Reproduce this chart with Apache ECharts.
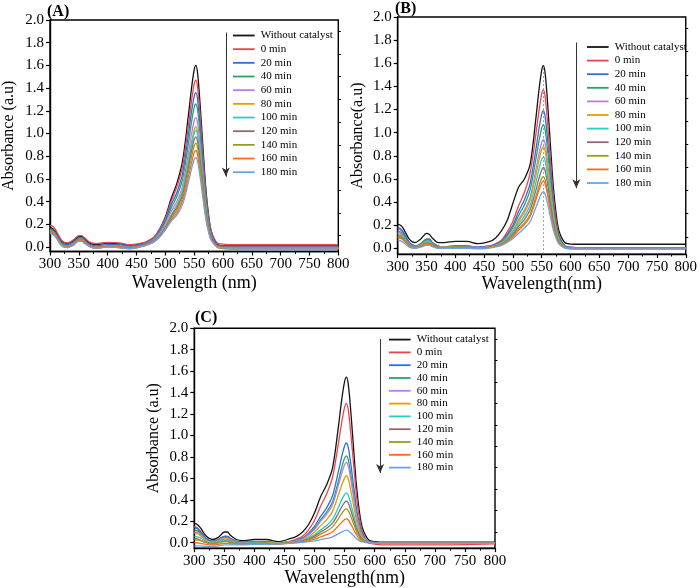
<!DOCTYPE html>
<html><head><meta charset="utf-8">
<script src="https://cdn.jsdelivr.net/npm/echarts@6/dist/echarts.min.js"></script>
<style>html,body{margin:0;padding:0;background:#fff}#c{width:700px;height:588px}</style>
</head><body><div id="c"></div><script>
// ---- data ----
const wavelength = [300,305,310,320,330,340,350,355,360,370,380,400,420,440,
  460,470,480,490,500,510,520,530,540,545,550,553,556,560,565,570,575,580,590,600,
  620,700,800];
const seriesNames = ['Without catalyst','0 min','20 min','40 min','60 min','80 min','100 min','120 min','140 min','160 min','180 min'];
const seriesColors = ['#141414','#f0424a','#2f6fdb','#2aa36b','#b67ceb','#dfa000','#27cbcb','#8e6c6c','#9b9b1f','#ff6a1a','#6aa2e6'];
const xTickLabels = [300,350,400,450,500,550,600,650,700,750,800];
const yTickLabels = [0,0.2,0.4,0.6,0.8,1.0,1.2,1.4,1.6,1.8,2.0];
const yMinorTicks = [0.1,0.3,0.5,0.7,0.9,1.1,1.3,1.5,1.7,1.9];

// Panel A
const A_wo  = [0.17,0.16,0.13,0.05,0.03,0.05,0.09,0.09,0.07,0.03,0.02,0.035,0.03,0.012, 0.03,0.05,0.08,0.155,0.265,0.425,0.56,0.76,1.16,1.38,1.56,1.60,1.53,1.28,0.90,0.53,0.28,0.13,0.025,0.01, 0.01,0.01,0.01];
const A_0   = [0.19,0.18,0.15,0.06,0.035,0.06,0.10,0.10,0.08,0.04,0.03,0.04,0.035,0.02, 0.035,0.055,0.085,0.155,0.255,0.40,0.53,0.71,1.07,1.27,1.435,1.47,1.405,1.18,0.835,0.50,0.27,0.135,0.035,0.025, 0.02,0.02,0.02];
const A_20  = [0.16,0.15,0.12,0.04,0.02,0.04,0.08,0.08,0.06,0.02,0.01,0.02,0.02,0.01, 0.025,0.045,0.075,0.14,0.235,0.37,0.48,0.65,0.99,1.175,1.325,1.36,1.30,1.09,0.77,0.455,0.24,0.115,0.02,0.008, 0.005,0.005,0.005];
const A_40  = [0.15,0.14,0.11,0.03,0.01,0.03,0.07,0.07,0.05,0.01,0.0,0.01,0.01,0.0, 0.02,0.04,0.07,0.13,0.22,0.34,0.445,0.60,0.91,1.085,1.23,1.26,1.205,1.005,0.705,0.41,0.215,0.095,0.01,-0.003, -0.005,-0.005,-0.005];
const A_60  = [0.14,0.13,0.10,0.02,0.005,0.025,0.065,0.065,0.045,0.005,0.0,0.01,0.005,-0.005, 0.015,0.035,0.065,0.12,0.20,0.31,0.40,0.54,0.825,0.98,1.11,1.14,1.09,0.91,0.635,0.37,0.19,0.085,0.005,-0.008, -0.01,-0.01,-0.01];
const A_80  = [0.13,0.12,0.09,0.01,-0.005,0.015,0.055,0.055,0.035,0.0,-0.01,0.0,-0.005,-0.015, 0.005,0.025,0.05,0.10,0.175,0.28,0.37,0.50,0.765,0.91,1.03,1.06,1.01,0.84,0.585,0.335,0.17,0.07,-0.005,-0.015, -0.02,-0.02,-0.02];
const A_100 = [0.14,0.13,0.10,0.02,0.0,0.02,0.06,0.06,0.04,0.005,-0.005,0.005,0.0,-0.01, 0.01,0.03,0.055,0.105,0.175,0.275,0.36,0.49,0.745,0.885,1.0,1.03,0.985,0.82,0.575,0.335,0.175,0.075,0.005,-0.005, -0.01,-0.01,-0.01];
const A_120 = [0.13,0.12,0.095,0.02,0.0,0.02,0.06,0.06,0.04,0.005,-0.005,0.005,0.0,-0.01, 0.015,0.03,0.055,0.10,0.17,0.265,0.345,0.46,0.70,0.835,0.945,0.97,0.925,0.775,0.545,0.32,0.17,0.08,0.012,0.005, 0.0,0.0,0.0];
const A_140 = [0.13,0.12,0.09,0.015,-0.005,0.015,0.055,0.055,0.035,0.0,-0.01,0.0,-0.005,-0.015, 0.005,0.02,0.045,0.09,0.16,0.25,0.325,0.435,0.66,0.785,0.89,0.915,0.87,0.725,0.505,0.29,0.15,0.062,0.0,-0.012, -0.015,-0.015,-0.015];
const A_160 = [0.14,0.13,0.095,0.02,0.0,0.02,0.06,0.06,0.04,0.005,-0.005,0.005,0.0,-0.01, 0.01,0.025,0.045,0.09,0.155,0.235,0.30,0.405,0.615,0.73,0.83,0.85,0.81,0.675,0.475,0.275,0.14,0.06,0.003,-0.007, -0.01,-0.01,-0.01];
const A_180 = [0.12,0.11,0.085,0.015,-0.005,0.015,0.05,0.05,0.03,0.0,-0.01,0.0,-0.005,-0.015, 0.005,0.02,0.045,0.085,0.15,0.225,0.28,0.375,0.57,0.68,0.77,0.79,0.755,0.63,0.44,0.255,0.13,0.055,0.0,-0.008, -0.01,-0.01,-0.01];

// Panel B
const B_wo  = [0.21,0.20,0.17,0.08,0.05,0.08,0.13,0.12,0.09,0.05,0.05,0.06,0.06,0.04, 0.06,0.09,0.15,0.24,0.39,0.53,0.60,0.73,1.13,1.36,1.54,1.58,1.51,1.27,0.90,0.54,0.30,0.15,0.05,0.037, 0.035,0.035,0.035];
const B_0   = [0.17,0.16,0.13,0.05,0.02,0.04,0.08,0.08,0.05,0.02,0.015,0.02,0.02,0.01, 0.02,0.04,0.07,0.14,0.235,0.37,0.485,0.655,0.99,1.18,1.335,1.37,1.31,1.095,0.77,0.455,0.245,0.115,0.022,0.01, 0.005,0.005,0.005];
const B_20  = [0.18,0.17,0.14,0.05,0.02,0.04,0.08,0.08,0.05,0.02,0.015,0.02,0.02,0.01, 0.02,0.035,0.06,0.12,0.20,0.32,0.42,0.565,0.86,1.025,1.16,1.19,1.135,0.95,0.67,0.395,0.21,0.10,0.02,0.01, 0.005,0.005,0.005];
const B_40  = [0.15,0.14,0.11,0.04,0.015,0.035,0.07,0.07,0.045,0.015,0.01,0.015,0.015,0.005, 0.015,0.03,0.055,0.105,0.18,0.285,0.375,0.51,0.775,0.92,1.04,1.07,1.02,0.855,0.60,0.355,0.19,0.09,0.015,0.005, 0.0,0.0,0.0];
const B_60  = [0.14,0.13,0.10,0.035,0.01,0.03,0.06,0.06,0.04,0.01,0.01,0.015,0.015,0.005, 0.015,0.025,0.045,0.09,0.155,0.25,0.33,0.445,0.68,0.81,0.915,0.94,0.90,0.75,0.525,0.31,0.16,0.07,0.005,-0.002, -0.005,-0.005,-0.005];
const B_80  = [0.13,0.12,0.095,0.03,0.01,0.03,0.055,0.055,0.035,0.01,0.01,0.015,0.01,0.005, 0.01,0.025,0.045,0.085,0.145,0.235,0.31,0.42,0.635,0.755,0.855,0.88,0.84,0.70,0.495,0.29,0.155,0.072,0.01,0.003, 0.0,0.0,0.0];
const B_100 = [0.12,0.11,0.09,0.03,0.01,0.025,0.05,0.05,0.03,0.01,0.005,0.01,0.01,0.0, 0.01,0.022,0.04,0.08,0.135,0.21,0.28,0.375,0.57,0.68,0.77,0.79,0.755,0.63,0.445,0.26,0.14,0.065,0.01,0.002, 0.0,0.0,0.0];
const B_120 = [0.11,0.10,0.08,0.025,0.005,0.02,0.045,0.045,0.03,0.01,0.005,0.01,0.01,0.0, 0.01,0.02,0.035,0.07,0.12,0.19,0.25,0.335,0.505,0.60,0.68,0.70,0.67,0.56,0.39,0.23,0.12,0.055,0.005,-0.003, -0.005,-0.005,-0.005];
const B_140 = [0.10,0.09,0.075,0.02,0.005,0.02,0.04,0.04,0.025,0.005,0.005,0.01,0.005,0.0, 0.008,0.018,0.03,0.065,0.11,0.17,0.22,0.295,0.45,0.535,0.605,0.62,0.59,0.495,0.35,0.205,0.11,0.05,0.008,0.002, 0.0,0.0,0.0];
const B_160 = [0.09,0.085,0.07,0.02,0.005,0.015,0.035,0.035,0.02,0.005,0.0,0.005,0.005,0.0, 0.007,0.017,0.03,0.06,0.10,0.155,0.205,0.275,0.42,0.50,0.565,0.58,0.555,0.465,0.325,0.19,0.10,0.047,0.007,0.002, 0.0,0.0,0.0];
const B_180 = [0.07,0.065,0.05,0.01,0.0,0.01,0.025,0.025,0.015,0.0,0.0,0.0,0.0,-0.005, 0.003,0.012,0.025,0.05,0.085,0.13,0.175,0.23,0.355,0.42,0.477,0.49,0.468,0.39,0.275,0.16,0.085,0.037,0.002,-0.004, -0.005,-0.005,-0.005];

// Panel C
const C_wo  = [0.18,0.17,0.14,0.06,0.03,0.05,0.10,0.10,0.07,0.03,0.02,0.03,0.03,0.01, 0.04,0.06,0.10,0.17,0.28,0.43,0.54,0.70,1.10,1.33,1.505,1.545,1.48,1.24,0.87,0.51,0.27,0.13,0.025,0.01, 0.005,0.005,0.005];
const C_0   = [0.15,0.14,0.11,0.04,0.015,0.03,0.06,0.06,0.04,0.01,0.0,0.0,-0.005,-0.01, 0.015,0.035,0.06,0.12,0.21,0.34,0.455,0.615,0.94,1.12,1.265,1.30,1.24,1.035,0.725,0.42,0.215,0.09,0.0,-0.012, -0.02,-0.02,-0.01];
const C_20  = [0.14,0.13,0.10,0.04,0.015,0.03,0.06,0.06,0.04,0.015,0.01,0.01,0.01,0.0, 0.012,0.025,0.045,0.09,0.155,0.245,0.325,0.44,0.675,0.80,0.905,0.93,0.89,0.745,0.525,0.31,0.165,0.075,0.01,0.002, 0.0,0.0,0.0];
const C_40  = [0.12,0.11,0.09,0.03,0.01,0.025,0.05,0.05,0.03,0.01,0.005,0.005,0.005,0.0, 0.01,0.022,0.04,0.08,0.135,0.215,0.285,0.385,0.585,0.70,0.79,0.81,0.775,0.645,0.455,0.27,0.14,0.065,0.01,0.003, 0.0,0.0,0.0];
const C_60  = [0.10,0.095,0.075,0.025,0.005,0.02,0.045,0.045,0.03,0.005,0.0,0.005,0.0,0.0, 0.01,0.02,0.035,0.075,0.125,0.20,0.265,0.355,0.545,0.645,0.73,0.75,0.715,0.60,0.42,0.25,0.13,0.06,0.008,0.002, 0.0,0.0,0.0];
const C_80  = [0.09,0.085,0.065,0.02,0.0,0.015,0.035,0.035,0.02,0.0,-0.005,0.0,0.0,-0.005, 0.005,0.013,0.025,0.055,0.10,0.16,0.215,0.295,0.45,0.535,0.605,0.625,0.595,0.495,0.345,0.20,0.10,0.045,0.002,-0.004, -0.005,-0.005,-0.005];
const C_100 = [0.06,0.055,0.045,0.01,-0.005,0.01,0.025,0.025,0.015,0.0,-0.005,0.0,-0.005,-0.005, 0.003,0.01,0.02,0.045,0.075,0.12,0.16,0.22,0.335,0.40,0.452,0.465,0.443,0.37,0.26,0.15,0.077,0.033,0.0,-0.004, -0.005,-0.005,-0.005];
const C_120 = [0.04,0.035,0.025,0.0,-0.01,0.0,0.015,0.015,0.005,-0.005,-0.01,-0.005,-0.005,-0.01, 0.002,0.008,0.017,0.035,0.062,0.10,0.135,0.183,0.28,0.333,0.376,0.387,0.37,0.308,0.215,0.125,0.064,0.027,0.0,-0.004, -0.005,-0.005,-0.005];
const C_140 = [0.03,0.025,0.02,0.0,-0.01,0.0,0.01,0.01,0.0,-0.005,-0.01,-0.005,-0.005,-0.01, 0.0,0.005,0.012,0.027,0.048,0.08,0.108,0.148,0.228,0.272,0.307,0.316,0.30,0.25,0.175,0.10,0.05,0.022,0.0,-0.004, -0.005,-0.005,-0.005];
const C_160 = [0.0,0.0,-0.005,-0.015,-0.02,-0.015,-0.005,-0.005,-0.01,-0.015,-0.015,-0.01,-0.01,-0.01, -0.003,0.002,0.007,0.018,0.033,0.055,0.075,0.103,0.16,0.19,0.216,0.223,0.212,0.176,0.123,0.07,0.035,0.014,-0.002,-0.004, -0.005,-0.005,-0.005];
const C_180 = [-0.03,-0.03,-0.03,-0.035,-0.035,-0.03,-0.02,-0.02,-0.02,-0.02,-0.02,-0.015,-0.015,-0.01, -0.005,-0.002,0.003,0.01,0.017,0.03,0.04,0.055,0.085,0.10,0.114,0.117,0.112,0.093,0.065,0.037,0.018,0.007,-0.002,-0.004, -0.005,-0.005,-0.005];

const panels = [
  {label:'(A)', xName:'Wavelength (nm)', yName:'Absorbance (a.u)', values:[A_wo,A_0,A_20,A_40,A_60,A_80,A_100,A_120,A_140,A_160,A_180]},
  {label:'(B)', xName:'Wavelength(nm)',  yName:'Absorbance(a.u)',  values:[B_wo,B_0,B_20,B_40,B_60,B_80,B_100,B_120,B_140,B_160,B_180]},
  {label:'(C)', xName:'Wavelength(nm)',  yName:'Absorbance (a.u)', values:[C_wo,C_0,C_20,C_40,C_60,C_80,C_100,C_120,C_140,C_160,C_180]}
];

// ---- layout / style ----
const FONT = '"Liberation Serif","Times New Roman",serif';
const layout = [
  {grid:{left:47.7, top:20, right:361.7, bottom:336.5}, ymin:-0.04, xGap:23, yGap:33,
   title:{left:47, top:4}, legend:{left:233, top:29.5, gap:1.67}, arrow:[[605,1.89],[605,0.62]]},
  {grid:{left:397.7, top:17, right:10, bottom:333.9}, ymin:-0.05, xGap:21, yGap:32,
   title:{left:395, top:1}, legend:{left:587, top:41, gap:1.6}, arrow:[[610,1.78],[610,0.52]]},
  {grid:{left:194.3, top:328.3, right:205, bottom:39.3}, ymin:-0.05, xGap:18, yGap:33,
   title:{left:195, top:310}, legend:{left:389, top:333.6, gap:0.8}, arrow:[[609,1.90],[609,0.65]]}
];

const option = {
  animation:false,
  backgroundColor:'#fff',
  title:[], grid:[], xAxis:[], yAxis:[], legend:[], series:[]
};
const blk = {color:'#000', width:1.4};
panels.forEach((p,k)=>{
  const L = layout[k];
  option.grid.push(Object.assign({show:true, borderColor:'#000', borderWidth:1.4, backgroundColor:'transparent'}, L.grid));
  option.title.push({text:p.label, left:L.title.left, top:L.title.top, padding:0,
    textStyle:{fontFamily:FONT, fontWeight:'bold', fontSize:16, color:'#000'}});
  option.xAxis.push({gridIndex:k, type:'value', min:300, max:800, interval:50,
    name:p.xName, nameLocation:'middle', nameGap:L.xGap,
    nameTextStyle:{fontFamily:FONT, fontSize:18, color:'#000'},
    axisLine:{show:true, onZero:false, lineStyle:blk},
    axisTick:{show:true, length:4, lineStyle:{color:'#000', width:1.2}},
    minorTick:{show:true, splitNumber:2, length:2.5, lineStyle:{color:'#000', width:1}},
    axisLabel:{fontFamily:FONT, fontSize:15, color:'#000', margin:5,
      customValues:xTickLabels, formatter:v=>String(v)},
    splitLine:{show:false}});
  option.yAxis.push({gridIndex:k, type:'value', min:L.ymin, max:2.0,
    name:p.yName, nameLocation:'middle', nameGap:L.yGap,
    nameTextStyle:{fontFamily:FONT, fontSize:16, color:'#000'},
    axisLine:{show:true, onZero:false, lineStyle:blk},
    axisTick:{show:true, length:4, customValues:yTickLabels, lineStyle:{color:'#000', width:1.2}},
    axisLabel:{fontFamily:FONT, fontSize:15, color:'#000', margin:6,
      customValues:yTickLabels, formatter:v=>Number(v).toFixed(1)},
    splitLine:{show:false}});
  option.yAxis.push({gridIndex:k, type:'value', min:L.ymin, max:2.0,
    axisLine:{show:false, onZero:false},
    axisTick:{show:true, length:2.5, customValues:yMinorTicks, lineStyle:{color:'#000', width:1}},
    axisLabel:{show:false}, splitLine:{show:false}});
  option.legend.push({data:seriesNames, orient:'vertical', left:L.legend.left, top:L.legend.top,
    icon:'path://M0,0L24,0L24,2L0,2Z',
    itemWidth:24, itemHeight:1.8, itemGap:L.legend.gap, selectedMode:false, padding:0,
    textStyle:{fontFamily:FONT, fontSize:11, color:'#000', lineHeight:12}});
  p.values.forEach((vals,i)=>{
    const s = {type:'line', name:seriesNames[i], xAxisIndex:k, yAxisIndex:2*k,
      data:wavelength.map((w,j)=>[w, vals[j]]),
      symbol:'none', smooth:0.3, clip:true,
      lineStyle:{color:seriesColors[i], width:1.3}, itemStyle:{color:seriesColors[i]},
      emphasis:{disabled:true}, z:2+i};
    if(i===0){
      const mlData = [[
        {coord:L.arrow[0], symbol:'none', lineStyle:{color:'#333', width:1, type:'solid'}},
        {coord:L.arrow[1], symbol:'arrow', symbolSize:[6,9]}
      ]];
      if(k===1){
        mlData.push([
          {coord:[553, L.ymin], symbol:'none', lineStyle:{color:'#888', width:0.8, type:[2,2]}},
          {coord:[553, 1.57], symbol:'none'}
        ]);
      }
      s.markLine = {silent:true, symbol:['none','arrow'], symbolSize:8, label:{show:false},
        itemStyle:{color:'#333'}, data:mlData, animation:false};
    }
    option.series.push(s);
  });
});

const chart = echarts.init(document.getElementById('c'), null, {renderer:'canvas'});
chart.setOption(option);
</script></body></html>
